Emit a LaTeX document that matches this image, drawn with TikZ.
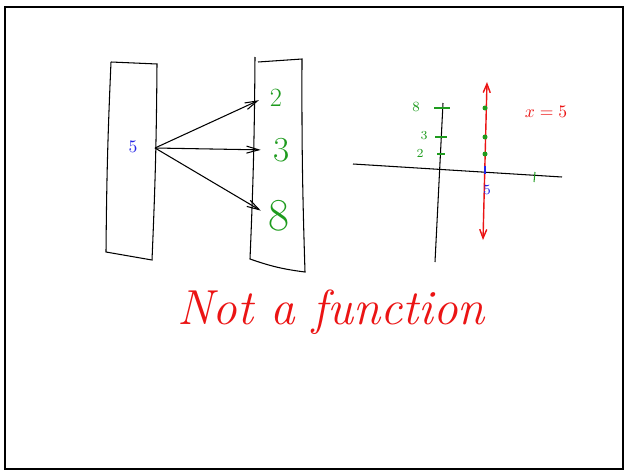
\documentclass[tikz,border=0pt]{standalone}
\usepackage{tikz}
\usetikzlibrary{arrows.meta, positioning, calc}
\definecolor{InkGreen}{RGB}{30,155,30}
\definecolor{InkRed}{RGB}{235,20,20}
\definecolor{InkBlue}{RGB}{35,35,230}

\begin{document}
\begin{tikzpicture}[x=0.02cm, y=-0.02cm]
    \useasboundingbox (0,0) rectangle (625,470);
    \draw[line width=1.4pt] (5,7) rectangle (623,469);

    % the two sets
    \draw[line width=0.6pt] (111,62) -- (157,64) to[bend left=1] (152,260) -- (106,252) to[bend left=1] (111,62);
    \draw[line width=0.6pt] (255,57) to[bend left=1] (250,259) to[bend right=6] (305,272) to[bend left=1] (302,59) -- (258,62);

    \node[text=InkBlue, font=\normalsize] (x5) at (133,147) {5};
    \coordinate (src) at (155,148);
    \node[text=InkGreen, font=\fontsize{15}{15}\selectfont] (y2) at (276,98) {2};
    \node[text=InkGreen, font=\fontsize{20}{20}\selectfont] (y3) at (282,150) {3};
    \node[text=InkGreen, font=\fontsize{26}{26}\selectfont] (y8) at (279,216) {8};

    \draw[-{Straight Barb[length=7pt, width=4pt]}, line width=0.6pt, shorten >=3pt] (src) -- (y2.west);
    \draw[-{Straight Barb[length=7pt, width=4pt]}, line width=0.6pt, shorten >=4pt] (src) -- (y3.west);
    \draw[-{Straight Barb[length=7pt, width=4pt]}, line width=0.6pt, shorten >=1pt] (src) -- (y8.165);

    % graph of x = 5
    \coordinate (xl) at (353,164);
    \coordinate (xr) at (562,177);
    \coordinate (yt) at (443,103);
    \coordinate (yb) at (435,262);
    \draw[line width=0.6pt] (xl) -- (xr);
    \draw[line width=0.6pt] (yt) -- (yb);

    \draw[InkGreen, line width=0.6pt] (434,108) -- (450,108);
    \draw[InkGreen, line width=0.6pt] (435,137) -- (447,137);
    \draw[InkGreen, line width=0.6pt] (437,154) -- (445,154);
    \node[text=InkGreen, font=\footnotesize] (t8) at (416,107) {8};
    \node[text=InkGreen, font=\scriptsize] (t3) at (424,136) {3};
    \node[text=InkGreen, font=\scriptsize] (t2) at (420,153) {2};
    \draw[InkGreen, line width=0.6pt] (535,172) -- (534,182);

    \coordinate (rt) at (487,82);
    \coordinate (rb) at (483,240);
    \draw[InkRed, line width=0.8pt, {Straight Barb[length=5pt, width=4pt]}-{Straight Barb[length=5pt, width=4pt]}] (rb) -- (rt);
    \fill[InkGreen] (485,108) circle (2.5);
    \fill[InkGreen] (485,137) circle (2.5);
    \fill[InkGreen] (485,154) circle (2.5);
    \draw[InkBlue, line width=1pt] (485,166) -- (485,174);
    \node[text=InkBlue, font=\footnotesize] (p5) at (487,190) {5};
    \node[text=InkRed, font=\normalsize] (eq) at (546,112) {$x = 5$};

    \node[text=InkRed, font=\fontsize{28}{30}\selectfont\itshape] (verdict) at (331,312) {Not a function};
\end{tikzpicture}
\end{document}
